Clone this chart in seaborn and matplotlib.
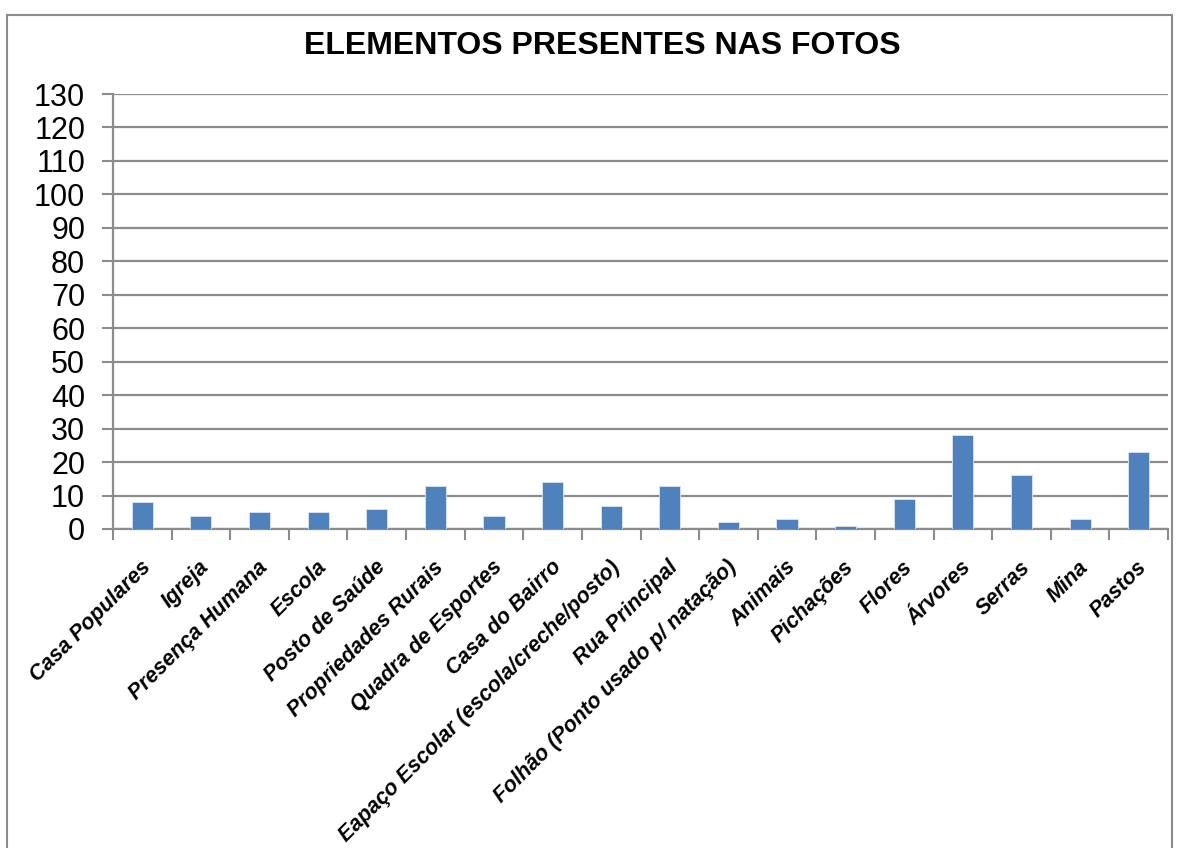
import numpy as np
import pandas as pd
import seaborn as sns
import matplotlib.pyplot as plt
from matplotlib.patches import Rectangle
from matplotlib.transforms import ScaledTranslation

categories = ['Casa Populares', 'Igreja', 'Presença Humana', 'Escola', 'Posto de Saúde',
              'Propriedades Rurais', 'Quadra de Esportes', 'Casa do Bairro',
              'Eapaço Escolar (escola/creche/posto)', 'Rua Principal',
              'Folhão (Ponto usado p/ natação)', 'Animais', 'Pichações', 'Flores',
              'Árvores', 'Serras', 'Mina', 'Pastos']
counts = [8, 4, 5, 5, 6, 13, 4, 14, 7, 13, 2, 3, 1, 9, 28, 16, 3, 23]

df = pd.DataFrame({'Elemento': categories, 'Quantidade': counts})

sns.set_style('white')
plt.rcParams['font.family'] = ['Liberation Sans', 'DejaVu Sans']
plt.rcParams['text.color'] = 'black'

fig = plt.figure(figsize=(11.85, 8.48), dpi=100)
ax = fig.add_axes([113 / 1185, 1 - 529 / 848, (1168 - 113) / 1185, (529 - 94) / 848])

sns.barplot(x='Elemento', y='Quantidade', data=df, color='#4F81BD', width=0.36,
            saturation=1, edgecolor='#DCE6F2', linewidth=0.6, ax=ax, zorder=3)

grid_c = '#8C8C8C'
ax.set_ylim(0, 130)
ax.set_xlim(-0.5, len(categories) - 0.5)
ax.set_yticks(np.arange(0, 131, 10))
ax.yaxis.grid(True, color=grid_c, linewidth=1.6, zorder=0)
ax.tick_params(axis='y', labelsize=22, length=8, width=1.5, color=grid_c, pad=12,
               left=True, labelcolor='black')

ax.set_xticks(np.arange(len(categories)))
ax.set_xticks(np.arange(-0.5, len(categories), 1), minor=True)
ax.tick_params(axis='x', which='major', length=0, pad=20, labelcolor='black')
ax.tick_params(axis='x', which='minor', length=8, width=1.5, color=grid_c, bottom=True)
ax.set_xticklabels(categories, rotation=45, ha='right', va='top', rotation_mode='anchor',
                   fontsize=15.5, fontweight='bold', fontstyle='italic')
for lab in ax.get_xticklabels():
    lab.set_transform(lab.get_transform() + ScaledTranslation(-2 / 100, 0, fig.dpi_scale_trans))

for side in ['top', 'right']:
    ax.spines[side].set_visible(False)
for side in ['left', 'bottom']:
    ax.spines[side].set_color(grid_c)
    ax.spines[side].set_linewidth(1.6)

ax.set_xlabel('')
ax.set_ylabel('')

fig.text(602 / 1185, 1 - 46 / 848, 'ELEMENTOS PRESENTES NAS FOTOS', ha='center', va='center',
         fontsize=23, fontweight='bold', color='black')

border = Rectangle((7 / 1185, -0.05), (1172 - 7) / 1185, 1.05 - 15 / 848,
                   transform=fig.transFigure, fill=False, edgecolor=grid_c, linewidth=1.5)
fig.patches.append(border)

fig.savefig('out.png', dpi=100)
plt.close()
